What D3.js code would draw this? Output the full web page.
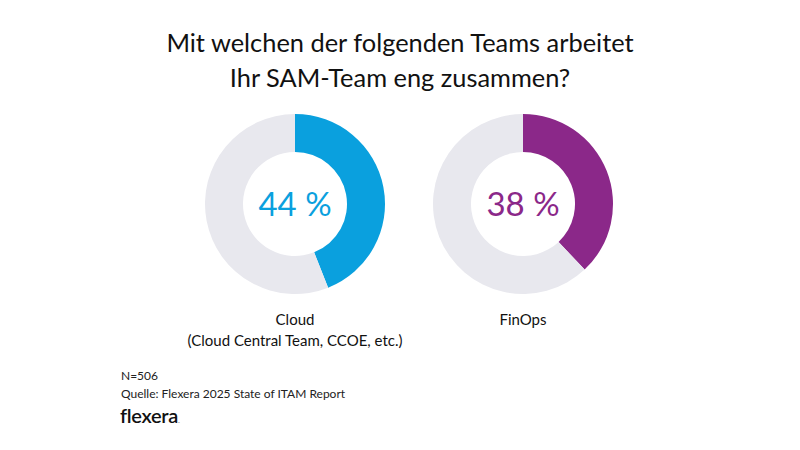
<!DOCTYPE html>
<html>
<head>
<meta charset="utf-8">
<script src="https://cdn.jsdelivr.net/npm/d3@7"></script>
<style>
  body { margin: 0; background: #fff; }
  svg { display: block; font-family: Lato, "Open Sans", sans-serif; }
</style>
</head>
<body>
<svg class="chart" width="800" height="450"></svg>
<script>
var titleLines = ["Mit welchen der folgenden Teams arbeitet", "Ihr SAM-Team eng zusammen?"];
var categories = [["Cloud", "(Cloud Central Team, CCOE, etc.)"], ["FinOps"]];
var values = [44, 38];
var colors = ["#0aa0de", "#8b2889"];
var footnotes = ["N=506", "Quelle: Flexera 2025 State of ITAM Report"];

var svg = d3.select("svg.chart");
var width = 800, height = 450;

var outerR = 90, innerR = 52;
var x = d3.scalePoint().domain(d3.range(values.length)).range([295, 523]);
var cy = 204;

svg.append("g").attr("class", "title")
    .selectAll("text")
    .data(titleLines)
    .enter().append("text")
    .attr("x", width/2)
    .attr("y", function(d,i){return 52 + i*35;})
    .attr("text-anchor", "middle")
    .attr("font-size", 25.4)
    .attr("fill", "#111")
    .text(function(d){return d;});

var arc = d3.arc().innerRadius(innerR).outerRadius(outerR);
var pie = d3.pie().sort(null);

var donuts = svg.selectAll("g.donut")
    .data(values)
    .enter().append("g")
    .attr("class", "donut")
    .attr("transform", function(d,i){return "translate(" + x(i) + "," + cy + ")";});

donuts.selectAll("path")
    .data(function(d,i){
        return pie([d, 100-d]).map(function(p,j){ p.color = j===0 ? colors[i] : "#e8e8ee"; return p; });
    })
    .enter().append("path")
    .attr("d", arc)
    .attr("fill", function(d){return d.color;});

donuts.append("text")
    .attr("y", 12)
    .attr("text-anchor", "middle")
    .attr("font-size", 33)
    .attr("fill", function(d,i){return colors[i];})
    .text(function(d){return d + " %";});

// category labels under each donut
svg.selectAll("g.label")
    .data(categories)
    .enter().append("g")
    .attr("class", "label")
    .attr("transform", function(d,i){return "translate(" + x(i) + ",325)";})
    .selectAll("text")
    .data(function(d){return d;})
    .enter().append("text")
    .attr("y", function(d,i){return i*21;})
    .attr("text-anchor", "middle")
    .attr("font-size", 15)
    .attr("fill", "#111")
    .text(function(d){return d;});

svg.append("g").attr("class", "foot")
    .selectAll("text")
    .data(footnotes)
    .enter().append("text")
    .attr("x", 121)
    .attr("y", function(d,i){return 380 + i*18;})
    .attr("font-size", 12)
    .attr("fill", "#222")
    .text(function(d){return d;});

var logo = svg.append("text")
    .attr("x", 120)
    .attr("y", 423)
    .attr("font-size", 20)
    .attr("font-weight", 600)
    .attr("fill", "#111")
    .attr("letter-spacing", -0.3);
logo.append("tspan").text("flexera");
logo.append("tspan").attr("fill", "#999").attr("font-size", 8).text(".");
</script>
</body>
</html>
